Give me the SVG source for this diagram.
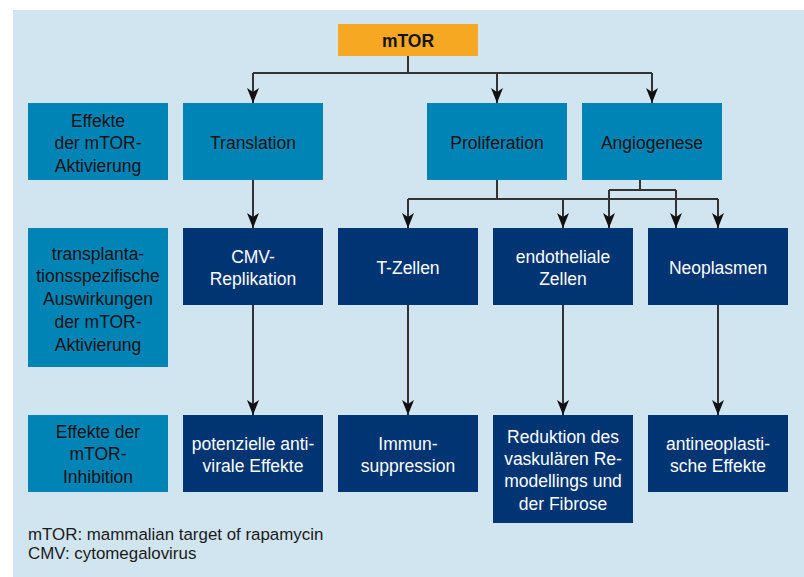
<svg xmlns="http://www.w3.org/2000/svg" width="804" height="577" viewBox="0 0 804 577">
<style>
.lbl{fill:#0083b5}
.mid{fill:#0083b5}
.dark{fill:#003473}
.t{font-family:"Liberation Sans",Arial,sans-serif;font-size:17.5px;text-anchor:middle}
.tk{fill:#141414}
.tw{fill:#ffffff}
.c{fill:none;stroke:#333333;stroke-width:2}
.foot{font-family:"Liberation Sans",Arial,sans-serif;font-size:16.9px;fill:#1a1a1a}
</style>
<defs>
<marker id="ah" viewBox="0 0 15 12" refX="15" refY="6" markerWidth="15" markerHeight="12" markerUnits="userSpaceOnUse" orient="auto">
<path d="M0,0 L15,6 L0,12 L4,6 z" fill="#111111"/>
</marker>
</defs>
<rect x="13" y="10" width="791" height="567" fill="#d1e5f0"/>

<g id="connectors">
<path class="c" d="M408,56 V73 M253,73 H652"/>
<path class="c" d="M253,73 V103" marker-end="url(#ah)"/>
<path class="c" d="M497,73 V103" marker-end="url(#ah)"/>
<path class="c" d="M652,73 V103" marker-end="url(#ah)"/>
<path class="c" d="M253,180 V228" marker-end="url(#ah)"/>
<path class="c" d="M497,180 V199 M408,199 H718"/>
<path class="c" d="M408,199 V228" marker-end="url(#ah)"/>
<path class="c" d="M563,199 V228" marker-end="url(#ah)"/>
<path class="c" d="M718,199 V228" marker-end="url(#ah)"/>
<path class="c" d="M640,180 V190 M609,190 H676"/>
<path class="c" d="M609,190 V228" marker-end="url(#ah)"/>
<path class="c" d="M676,190 V228" marker-end="url(#ah)"/>
<path class="c" d="M253,305 V415" marker-end="url(#ah)"/>
<path class="c" d="M408,305 V415" marker-end="url(#ah)"/>
<path class="c" d="M563,305 V415" marker-end="url(#ah)"/>
<path class="c" d="M718,305 V415" marker-end="url(#ah)"/>
</g>

<g id="mtor">
<rect x="338" y="24" width="140" height="32" fill="#f6a823"/>
<text class="t tk" x="408" y="46.5" font-weight="bold">mTOR</text>
</g>

<g id="label1">
<rect class="lbl" x="28" y="103" width="140" height="77"/>
<text class="t tk" x="98"><tspan x="98" y="126.5">Effekte</tspan><tspan x="98" y="149">der mTOR-</tspan><tspan x="98" y="171.5">Aktivierung</tspan></text>
</g>
<g id="translation">
<rect class="mid" x="183" y="103" width="140" height="77"/>
<text class="t tk" x="253" y="149">Translation</text>
</g>
<g id="proliferation">
<rect class="mid" x="427" y="103" width="140" height="77"/>
<text class="t tk" x="497" y="149">Proliferation</text>
</g>
<g id="angiogenese">
<rect class="mid" x="582" y="103" width="140" height="77"/>
<text class="t tk" x="652" y="149">Angiogenese</text>
</g>

<g id="label2">
<rect class="lbl" x="28" y="228" width="140" height="139"/>
<text class="t tk" x="98"><tspan x="98" y="259.5">transplanta-</tspan><tspan x="98" y="282.3">tionsspezifische</tspan><tspan x="98" y="305">Auswirkungen</tspan><tspan x="98" y="327.8">der mTOR-</tspan><tspan x="98" y="350.5">Aktivierung</tspan></text>
</g>
<g id="cmv">
<rect class="dark" x="183" y="228" width="140" height="77"/>
<text class="t tw" x="253"><tspan x="253" y="263">CMV-</tspan><tspan x="253" y="285">Replikation</tspan></text>
</g>
<g id="tzellen">
<rect class="dark" x="338" y="228" width="140" height="77"/>
<text class="t tw" x="408" y="274">T-Zellen</text>
</g>
<g id="endothel">
<rect class="dark" x="493" y="228" width="140" height="77"/>
<text class="t tw" x="563"><tspan x="563" y="263">endotheliale</tspan><tspan x="563" y="285">Zellen</tspan></text>
</g>
<g id="neoplasmen">
<rect class="dark" x="648" y="228" width="140" height="77"/>
<text class="t tw" x="718" y="274">Neoplasmen</text>
</g>

<g id="label3">
<rect class="lbl" x="28" y="415" width="140" height="77"/>
<text class="t tk" x="98"><tspan x="98" y="438">Effekte der</tspan><tspan x="98" y="460.3">mTOR-</tspan><tspan x="98" y="482.5">Inhibition</tspan></text>
</g>
<g id="antiviral">
<rect class="dark" x="183" y="415" width="140" height="77"/>
<text class="t tw" x="253"><tspan x="253" y="450">potenzielle anti-</tspan><tspan x="253" y="472">virale Effekte</tspan></text>
</g>
<g id="immun">
<rect class="dark" x="338" y="415" width="140" height="77"/>
<text class="t tw" x="408"><tspan x="408" y="450">Immun-</tspan><tspan x="408" y="472">suppression</tspan></text>
</g>
<g id="reduktion">
<rect class="dark" x="493" y="415" width="140" height="108"/>
<text class="t tw" x="563"><tspan x="563" y="443">Reduktion des</tspan><tspan x="563" y="465">vaskulären Re-</tspan><tspan x="563" y="487.3">modellings und</tspan><tspan x="563" y="509.5">der Fibrose</tspan></text>
</g>
<g id="antineo">
<rect class="dark" x="648" y="415" width="140" height="77"/>
<text class="t tw" x="718"><tspan x="718" y="450">antineoplasti-</tspan><tspan x="718" y="472">sche Effekte</tspan></text>
</g>

<g id="footnote">
<text class="foot" x="28" y="540">mTOR: mammalian target of rapamycin</text>
<text class="foot" x="28" y="558.5">CMV: cytomegalovirus</text>
</g>
</svg>
